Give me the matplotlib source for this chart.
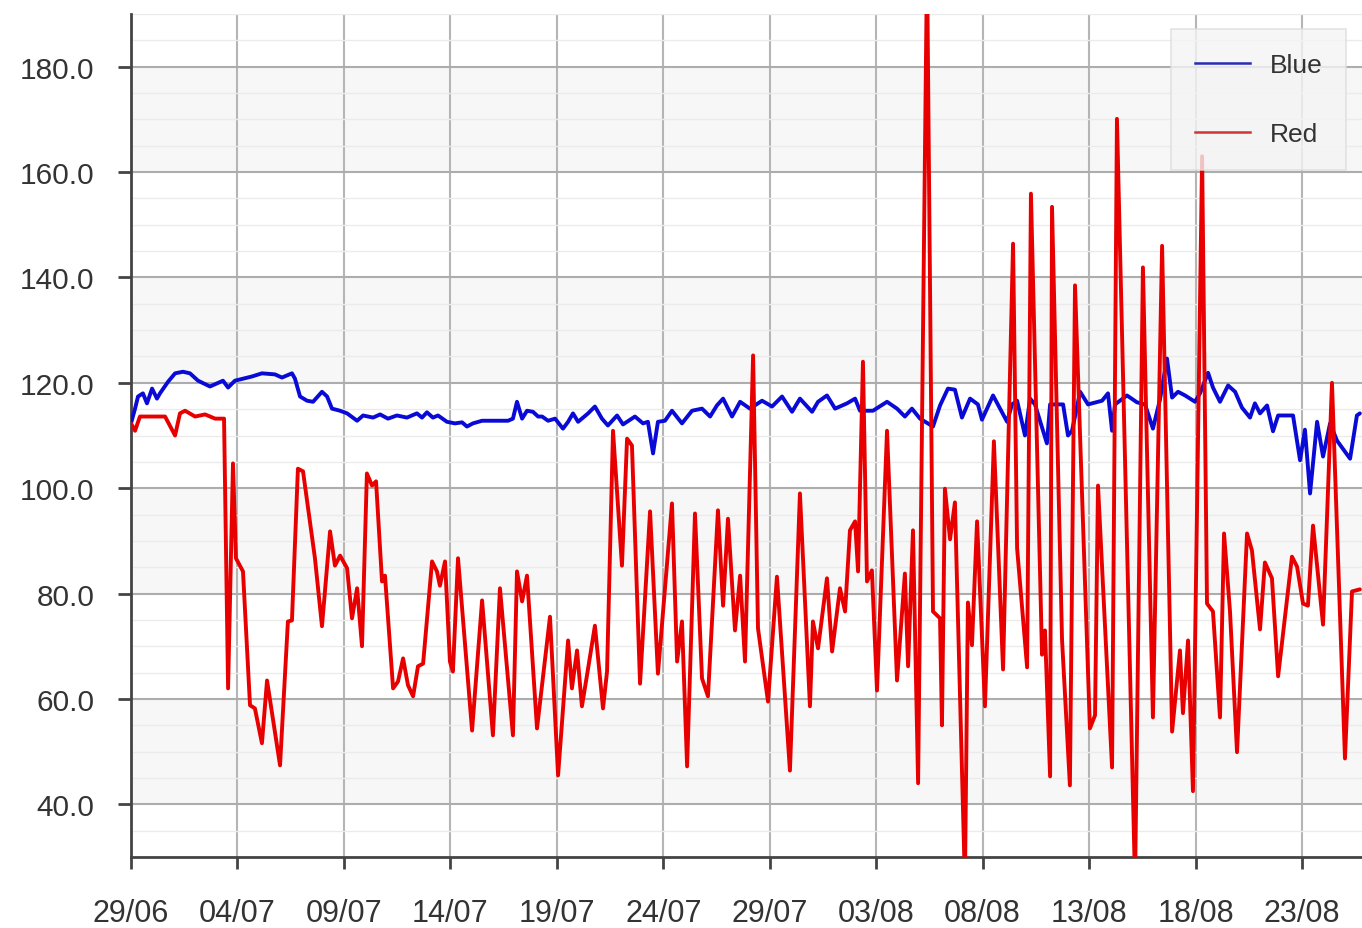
import numpy as np
import pandas as pd
import matplotlib
matplotlib.use("Agg")
import matplotlib.pyplot as plt
import matplotlib.dates as mdates
from matplotlib.lines import Line2D
from matplotlib.ticker import MultipleLocator, FuncFormatter

# ---------------- data (day offset from 29/06, value) ----------------
start_date = "2013-06-29"

blue_day = [0.00, 0.19, 0.33, 0.56, 0.75, 0.99, 1.22, 1.36, 1.74, 2.07, 2.44, 2.77, 3.15, 3.71,
            4.04, 4.32, 4.56, 4.88, 5.68, 6.15, 6.76, 7.09, 7.56, 7.70, 7.94, 8.27, 8.55, 8.97,
            9.21, 9.44, 9.82, 10.15, 10.62, 10.90, 11.37, 11.70, 12.07, 12.49, 12.96, 13.43,
            13.67, 13.90, 14.18, 14.42, 14.84, 15.22, 15.55, 15.78, 16.06, 16.49, 17.00, 17.71,
            17.94, 18.13, 18.37, 18.60, 18.88, 19.12, 19.31, 19.59, 19.92, 20.29, 20.53, 20.76,
            21.00, 21.47, 21.79, 22.12, 22.40, 22.83, 23.11, 23.67, 24.05, 24.28, 24.52, 24.75,
            25.08, 25.41, 25.88, 26.35, 26.82, 27.20, 27.52, 27.81, 28.23, 28.61, 29.07, 29.64,
            30.11, 30.58, 31.05, 31.42, 31.99, 32.27, 32.69, 33.07, 33.63, 34.01, 34.24, 34.85,
            35.51, 35.98, 36.35, 36.68, 37.06, 37.67, 38.00, 38.37, 38.70, 39.03, 39.41, 39.78,
            39.97, 40.49, 41.15, 41.38, 41.62, 41.99, 42.23, 42.46, 43.02, 43.17, 43.78, 44.01,
            44.20, 44.58, 44.95, 45.61, 45.89, 46.08, 46.22, 46.78, 47.25, 47.63, 48.00, 48.33,
            48.66, 48.90, 49.18, 49.51, 49.98, 50.21, 50.59, 50.82, 51.15, 51.53, 51.86, 52.18,
            52.56, 52.79, 53.03, 53.36, 53.64, 53.88, 54.58, 54.91, 55.14, 55.38, 55.71, 55.99,
            56.32, 56.65, 57.26, 57.58, 57.72]
blue_val = [112.3, 115.1, 117.4, 118.0, 116.1, 118.9, 117.0, 118.0, 120.2, 121.8, 122.1, 121.8,
            120.4, 119.3, 119.9, 120.4, 119.1, 120.4, 121.2, 121.8, 121.6, 121.0, 121.8, 120.8,
            117.4, 116.6, 116.4, 118.3, 117.4, 115.1, 114.7, 114.2, 112.8, 113.8, 113.4, 114.0,
            113.2, 113.8, 113.4, 114.2, 113.4, 114.4, 113.4, 113.8, 112.6, 112.3, 112.5, 111.7,
            112.3, 112.8, 112.8, 112.8, 113.2, 116.4, 113.2, 114.7, 114.5, 113.6, 113.6, 112.8,
            113.2, 111.3, 112.6, 114.2, 112.6, 114.2, 115.5, 113.2, 111.9, 113.8, 112.1, 113.6,
            112.3, 112.6, 106.6, 112.6, 112.8, 114.7, 112.3, 114.7, 115.1, 113.6, 115.7, 117.0,
            113.6, 116.4, 115.1, 116.6, 115.5, 117.4, 114.5, 117.0, 114.5, 116.4, 117.6, 115.1,
            116.1, 117.0, 114.7, 114.7, 116.4, 115.1, 113.6, 115.1, 113.2, 111.7, 115.7, 118.9,
            118.7, 113.4, 117.0, 115.9, 113.0, 117.6, 112.6, 115.9, 116.6, 110.0, 117.0, 115.9,
            108.5, 115.9, 115.9, 110.0, 110.9, 118.3, 115.9, 116.6, 118.0, 110.9, 115.9, 117.6,
            116.3, 115.9, 111.3, 116.8, 124.6, 117.2, 118.3, 117.6, 116.4, 118.0, 121.9, 119.1,
            116.4, 119.5, 118.3, 115.3, 113.4, 116.1, 114.2, 115.7, 110.8, 113.8, 113.8, 105.3,
            111.1, 99.0, 112.6, 106.0, 112.3, 109.0, 105.6, 113.8, 114.2]

red_day = [0.00, 0.19, 0.42, 0.89, 1.60, 2.07, 2.30, 2.54, 3.01, 3.48, 3.95, 4.37, 4.56, 4.79,
           4.93, 5.26, 5.59, 5.82, 6.15, 6.39, 7.00, 7.37, 7.56, 7.84, 8.08, 8.64, 8.97, 9.35,
           9.58, 9.82, 10.15, 10.38, 10.62, 10.85, 11.08, 11.32, 11.51, 11.79, 11.93, 12.31,
           12.54, 12.78, 13.01, 13.25, 13.48, 13.72, 14.14, 14.37, 14.51, 14.75, 14.98, 15.12,
           15.36, 16.02, 16.49, 17.00, 17.33, 17.94, 18.13, 18.37, 18.60, 19.07, 19.68, 20.06,
           20.53, 20.71, 20.95, 21.18, 21.47, 21.79, 22.17, 22.36, 22.64, 23.06, 23.30, 23.53,
           23.91, 24.38, 24.75, 25.41, 25.65, 25.88, 26.12, 26.49, 26.82, 27.10, 27.57, 27.81,
           28.04, 28.37, 28.61, 28.84, 29.22, 29.45, 29.92, 30.34, 30.95, 31.42, 31.89, 32.03,
           32.27, 32.69, 32.93, 33.30, 33.54, 33.77, 34.01, 34.15, 34.38, 34.57, 34.80, 35.04,
           35.51, 35.98, 36.35, 36.50, 36.73, 36.97, 37.39, 37.67, 38.00, 38.09, 38.23, 38.47,
           38.70, 39.17, 39.31, 39.50, 39.74, 40.11, 40.53, 40.96, 41.43, 41.62, 42.09, 42.27,
           42.79, 42.93, 43.17, 43.26, 43.73, 44.10, 44.34, 45.04, 45.28, 45.42, 46.08, 46.31,
           47.16, 47.53, 48.00, 48.43, 48.90, 49.27, 49.41, 49.65, 49.88, 50.31, 50.54, 50.82,
           51.15, 51.34, 51.62, 51.95, 52.42, 52.65, 53.03, 53.26, 53.59, 53.88, 54.53, 54.77,
           55.05, 55.28, 55.52, 55.99, 56.41, 57.02, 57.35, 57.72]
red_val = [112.3, 110.9, 113.6, 113.6, 113.6, 110.0, 114.2, 114.7, 113.6, 114.0, 113.2, 113.2,
           62.0, 104.7, 86.7, 84.2, 58.8, 58.2, 51.6, 63.5, 47.4, 74.7, 74.9, 103.7, 103.2, 86.7,
           73.8, 91.8, 85.3, 87.2, 84.8, 75.3, 81.0, 70.0, 102.8, 100.5, 101.3, 82.3, 83.4, 62.0,
           63.3, 67.7, 62.6, 60.5, 66.2, 66.7, 86.1, 84.2, 81.5, 86.1, 67.1, 65.2, 86.7, 54.0,
           78.7, 53.1, 81.0, 53.1, 84.2, 78.5, 83.4, 54.4, 75.6, 45.5, 71.1, 62.0, 69.2, 58.6,
           65.8, 73.9, 58.2, 65.2, 110.9, 85.3, 109.4, 108.1, 62.9, 95.6, 64.8, 97.1, 67.1, 74.7,
           47.2, 95.2, 63.9, 60.5, 95.8, 77.7, 94.2, 73.0, 83.4, 67.1, 125.2, 73.4, 59.5, 83.2,
           46.4, 99.0, 58.6, 74.7, 69.6, 82.9, 69.0, 81.0, 76.6, 92.0, 93.7, 84.2, 124.0, 82.3,
           84.4, 61.6, 110.9, 63.5, 83.8, 66.2, 92.0, 44.0, 200.0, 76.6, 75.3, 55.0, 99.9, 90.3,
           97.3, 25.0, 78.3, 70.2, 93.7, 58.6, 108.9, 65.6, 146.4, 88.6, 66.0, 155.9, 68.4, 73.0,
           45.3, 153.4, 71.3, 43.6, 138.5, 54.4, 56.9, 100.5, 47.0, 170.1, 25.0, 141.9, 56.5,
           146.0, 53.8, 69.2, 57.3, 71.1, 42.5, 163.0, 78.1, 76.6, 56.5, 91.4, 76.6, 49.9, 91.4,
           88.2, 73.2, 85.9, 82.9, 64.3, 87.0, 85.1, 78.1, 77.7, 92.9, 74.1, 120.0, 48.7, 80.4,
           80.8]

series_names = ["Blue", "Red"]
y_min, y_max = 30, 190
x_span_days = 57.82

# ---------------- figure ----------------
plt.rcParams['font.family'] = ['Liberation Sans', 'DejaVu Sans']
fig = plt.figure(figsize=(13.62, 9.29), dpi=100)
ax = fig.add_axes([131 / 1362, 71 / 929, 1231 / 1362, 843 / 929])

base = pd.Timestamp(start_date)
blue_t = base + pd.to_timedelta(blue_day, unit="D")
red_t = base + pd.to_timedelta(red_day, unit="D")

# alternating horizontal bands
for lo in range(40, 190, 40):
    ax.axhspan(lo, lo + 20, facecolor="#f7f7f7", zorder=0, lw=0)

ax.plot(blue_t, blue_val, color="#0a0ad6", lw=2.8, zorder=3,
        solid_joinstyle="round", solid_capstyle="round")
ax.plot(red_t, red_val, color="#e80000", lw=2.8, zorder=4,
        solid_joinstyle="round", solid_capstyle="round")

ax.set_ylim(y_min, y_max)
ax.set_xlim(base, base + pd.Timedelta(days=x_span_days))

# ticks
xticks = [base + pd.Timedelta(days=5 * k) for k in range(12)]
ax.set_xticks(xticks)
ax.xaxis.set_major_formatter(mdates.DateFormatter("%d/%m"))
ax.yaxis.set_major_locator(MultipleLocator(20))
ax.yaxis.set_minor_locator(MultipleLocator(5))
ax.yaxis.set_major_formatter(FuncFormatter(lambda v, p: f"{v:.1f}" if v >= 40 else ""))

ax.tick_params(axis="y", which="major", length=9.5, width=2, color="#444444",
               labelsize=21.5, labelcolor="#333333", pad=17)
ax.tick_params(axis="y", which="minor", length=0)
ax.tick_params(axis="x", which="major", length=8.6, width=2, color="#444444",
               labelsize=22, labelcolor="#333333", pad=21)

# grids
ax.grid(axis="y", which="minor", color="#ebebeb", lw=1.0, zorder=1)
ax.grid(axis="y", which="major", color="#adadad", lw=1.5, zorder=1)
ax.grid(axis="x", which="major", color="#b5b5b5", lw=1.5, zorder=1)
ax.set_axisbelow(True)

for s in ["top", "right"]:
    ax.spines[s].set_visible(False)
for s in ["left", "bottom"]:
    ax.spines[s].set_color("#444444")
    ax.spines[s].set_linewidth(2)

handles = [Line2D([], [], color="#2a2ab8", lw=1.8),
           Line2D([], [], color="#d23434", lw=1.8)]
leg = ax.legend(handles, series_names, loc="upper right", bbox_to_anchor=(0.987, 0.982),
                borderaxespad=0, fontsize=19, frameon=True, fancybox=False,
                handlelength=2.1, handletextpad=0.72, labelspacing=1.7, borderpad=0.9,
                labelcolor="#333333")
leg.get_frame().set_facecolor("#f4f4f4")
leg.get_frame().set_edgecolor("#dddddd")
leg.get_frame().set_linewidth(1.2)
leg.set_zorder(10)

fig.savefig("out.png", dpi=100, facecolor="white")
